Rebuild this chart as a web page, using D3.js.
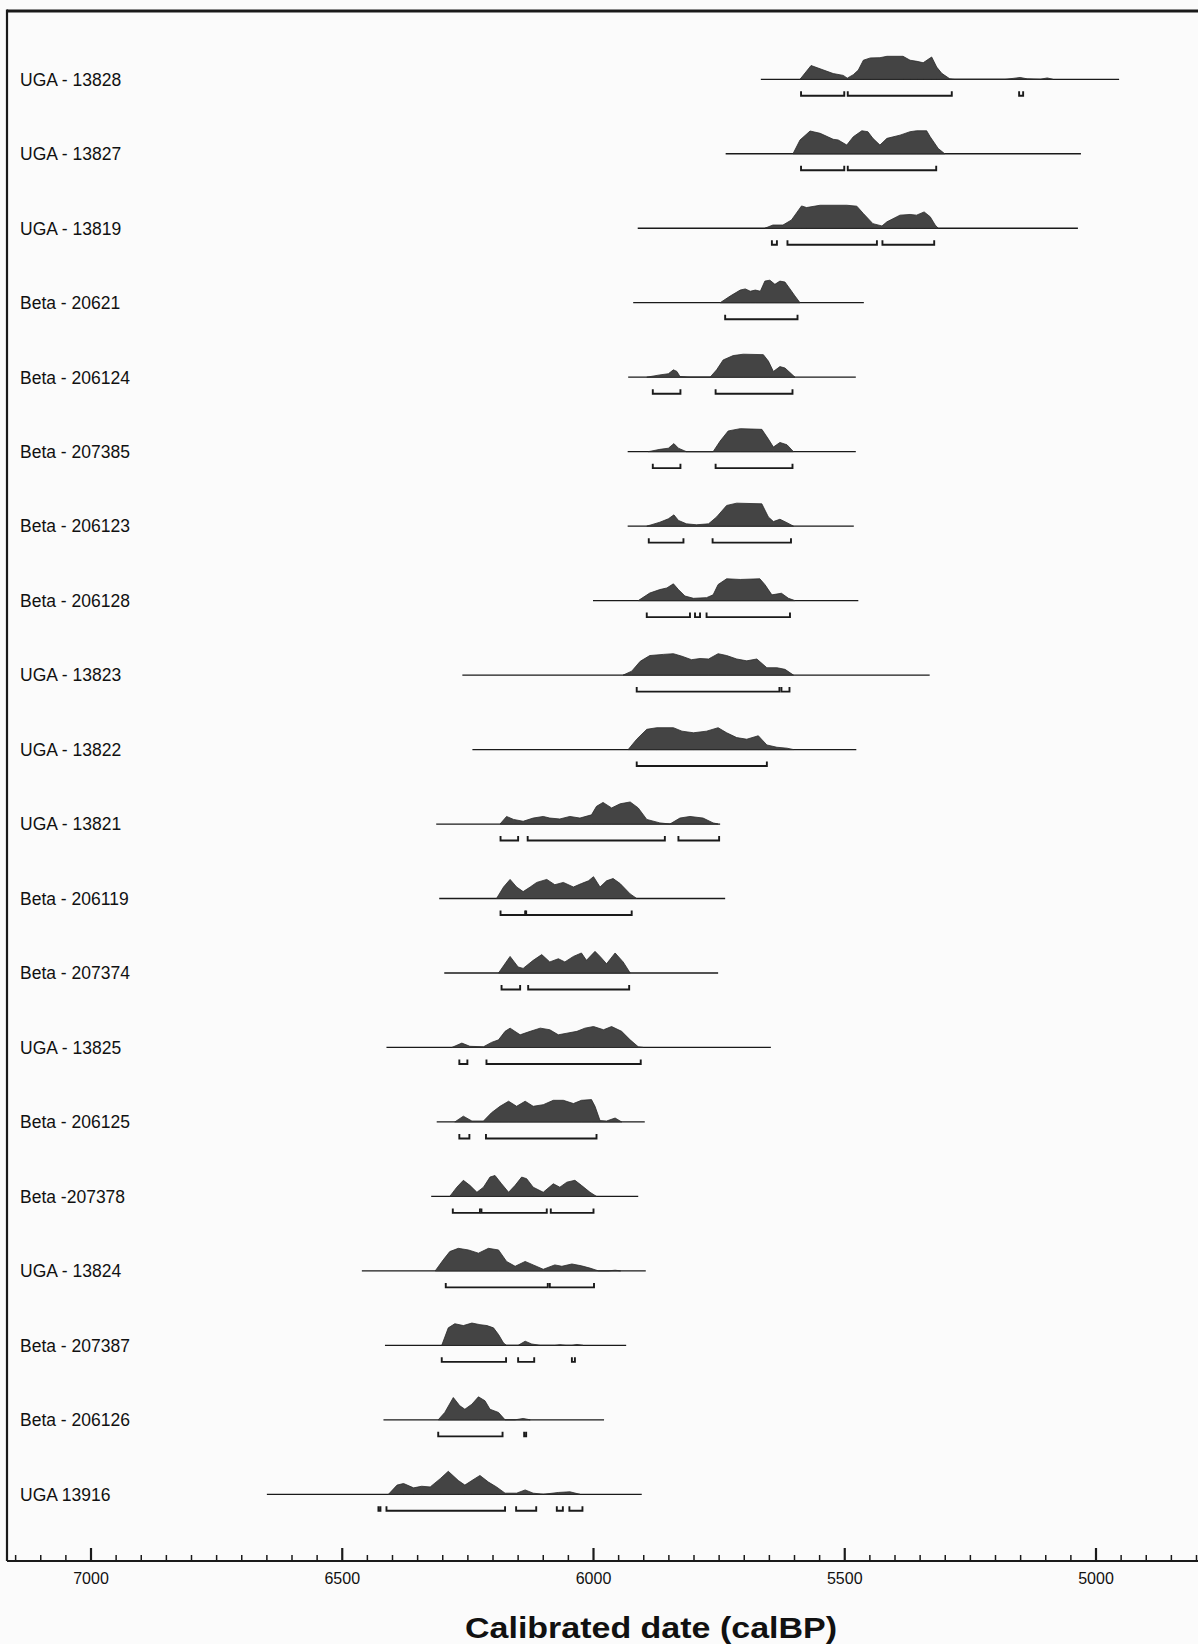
<!DOCTYPE html>
<html><head><meta charset="utf-8">
<script src="https://cdn.jsdelivr.net/npm/d3@7/dist/d3.min.js"></script>
<style>
html,body{margin:0;padding:0;background:#fbfbfb;}
svg{display:block;}
</style></head>
<body>
<svg id="chart" width="1198" height="1644"></svg>
<script>
// ---- Data (calibrated years BP; density relative to each sample's maximum) ----
const labels = ["UGA - 13828","UGA - 13827","UGA - 13819","Beta - 20621","Beta - 206124","Beta - 207385",
  "Beta - 206123","Beta - 206128","UGA - 13823","UGA - 13822","UGA - 13821","Beta - 206119","Beta - 207374",
  "UGA - 13825","Beta - 206125","Beta -207378","UGA - 13824","Beta - 207387","Beta - 206126","UGA 13916"];

// plotted extent of each calibrated curve [from, to]
const lineRanges = [[5666,4953],[5736,5029],[5911,5035],[5920,5461],[5930,5477],[5931,5477],[5931,5481],
  [6000,5472],[6260,5330],[6240,5476],[6312,5747],[6306,5737],[6296,5751],[6411,5646],[6311,5897],
  [6322,5910],[6460,5895],[6414,5934],[6417,5978],[6649,5903]];

// highest posterior density ranges drawn as brackets
const hpdRanges = [
  [[5586,5500],[5493,5286],[5152,5144]],
  [[5586,5500],[5493,5317]],
  [[5644,5634],[5613,5435],[5424,5321]],
  [[5737,5593]],
  [[5881,5826],[5756,5603]],
  [[5881,5826],[5756,5603]],
  [[5889,5820],[5762,5606]],
  [[5893,5807],[5797,5787],[5774,5608]],
  [[5913,5629],[5625,5609]],
  [[5913,5654]],
  [[6184,6149],[6130,5857],[5830,5749]],
  [[6184,6135],[6133,5923]],
  [[6182,6145],[6129,5928]],
  [[6266,6250],[6212,5905]],
  [[6266,6246],[6213,5993]],
  [[6279,6225],[6222,6092],[6084,5999]],
  [[6293,6090],[6086,5998]],
  [[6301,6173],[6149,6117],[6042,6036]],
  [[6308,6180],[6137,6133]],
  [[6427,6423],[6411,6175],[6153,6113],[6072,6060],[6047,6021]]
];

const d01 = [[5588,0],[5566,0.6],[5522,0.25],[5502,0.17],[5494,0.05],[5482,0.2],[5472,0.4],[5462,0.83],[5448,0.93],
  [5429,0.94],[5415,1],[5383,1],[5369,0.83],[5355,0.78],[5343,0.72],[5326,0.97],[5316,0.53],[5306,0.26],[5290,0.02],
  [5280,0],[5180,0],[5164,0.04],[5150,0.08],[5136,0.02],[5110,0],[5096,0.06],[5085,0]];
const d02 = [[5602,0],[5588,0.6],[5568,0.99],[5548,0.89],[5522,0.63],[5512,0.6],[5495,0.38],[5482,0.74],[5465,1],
  [5453,0.96],[5443,0.67],[5429,0.38],[5415,0.67],[5389,0.81],[5369,0.96],[5356,1],[5336,1],[5329,0.74],[5313,0.23],[5300,0]];
const d03 = [[5658,0],[5642,0.14],[5622,0.14],[5605,0.36],[5585,0.97],[5575,0.9],[5548,1],[5495,1],[5475,0.96],
  [5462,0.64],[5443,0.2],[5425,0.1],[5415,0.28],[5389,0.57],[5369,0.6],[5356,0.57],[5341,0.71],[5329,0.5],[5319,0.14],[5313,0]];
const d04 = [[5747,0],[5727,0.29],[5707,0.55],[5697,0.6],[5687,0.5],[5677,0.55],[5667,0.5],[5658,0.94],[5648,0.98],
  [5638,0.8],[5628,0.94],[5618,0.9],[5608,0.6],[5598,0.29],[5588,0]];
const d05 = [[5893,0],[5867,0.1],[5850,0.15],[5840,0.32],[5833,0.25],[5827,0.03],[5807,0],[5767,0],[5754,0.32],
  [5741,0.75],[5721,0.94],[5701,1],[5661,0.98],[5651,0.7],[5641,0.25],[5628,0.46],[5618,0.4],[5608,0.2],[5598,0]];
const d06 = [[5890,0],[5867,0.1],[5850,0.15],[5839,0.35],[5830,0.15],[5814,0],[5761,0],[5747,0.46],[5731,0.9],
  [5707,1],[5664,0.97],[5651,0.55],[5641,0.2],[5628,0.4],[5614,0.3],[5601,0]];
const d07 = [[5893,0],[5867,0.17],[5850,0.32],[5839,0.49],[5830,0.25],[5814,0.1],[5794,0.06],[5770,0.1],[5754,0.4],
  [5734,0.9],[5714,1],[5664,0.97],[5651,0.4],[5641,0.2],[5628,0.3],[5614,0.15],[5601,0]];
const d08 = [[5910,0],[5887,0.33],[5867,0.48],[5853,0.55],[5840,0.73],[5830,0.48],[5817,0.2],[5800,0.1],[5774,0.13],
  [5761,0.25],[5751,0.7],[5734,0.95],[5707,0.92],[5668,0.95],[5658,0.7],[5644,0.25],[5625,0.32],[5611,0.1],[5598,0]];
const d09 = [[5940,0],[5923,0.17],[5906,0.6],[5887,0.85],[5860,0.9],[5840,0.93],[5823,0.82],[5804,0.67],[5787,0.72],
  [5770,0.7],[5751,0.93],[5734,0.85],[5714,0.7],[5694,0.62],[5674,0.7],[5654,0.32],[5634,0.32],[5618,0.25],[5601,0]];
const d10 = [[5930,0],[5913,0.45],[5893,0.88],[5873,0.95],[5840,0.95],[5823,0.8],[5800,0.73],[5774,0.8],[5751,0.95],
  [5734,0.73],[5714,0.52],[5694,0.45],[5671,0.6],[5654,0.2],[5634,0.1],[5614,0.06],[5601,0]];
const d11 = [[6185,0],[6172,0.33],[6158,0.2],[6139,0.12],[6119,0.26],[6099,0.33],[6086,0.26],[6066,0.22],[6046,0.33],
  [6026,0.26],[6003,0.4],[5993,0.77],[5980,0.94],[5963,0.7],[5946,0.88],[5926,0.96],[5910,0.7],[5893,0.2],[5867,0.05],
  [5847,0],[5827,0.26],[5807,0.33],[5781,0.26],[5761,0.05],[5751,0]];
const d12 = [[6192,0],[6178,0.5],[6165,0.83],[6152,0.5],[6139,0.3],[6125,0.5],[6112,0.7],[6092,0.83],[6076,0.6],
  [6059,0.7],[6039,0.5],[6023,0.65],[6009,0.77],[5999,0.95],[5986,0.5],[5973,0.77],[5960,0.87],[5946,0.65],[5926,0.2],[5913,0]];
const d13 = [[6188,0],[6165,0.72],[6149,0.26],[6139,0.2],[6119,0.55],[6102,0.8],[6086,0.48],[6069,0.62],[6056,0.48],
  [6039,0.72],[6023,0.87],[6013,0.55],[5996,0.94],[5986,0.72],[5973,0.4],[5956,0.87],[5940,0.48],[5926,0]];
const d14 = [[6281,0],[6261,0.19],[6245,0.05],[6218,0.03],[6202,0.22],[6188,0.33],[6175,0.7],[6165,0.84],[6145,0.55],
  [6125,0.7],[6105,0.84],[6086,0.77],[6069,0.55],[6052,0.62],[6032,0.7],[6016,0.84],[5999,0.91],[5979,0.77],[5963,0.91],
  [5943,0.7],[5926,0.33],[5910,0.03],[5900,0]];
const d15 = [[6275,0],[6258,0.25],[6241,0.04],[6218,0.04],[6202,0.4],[6185,0.68],[6168,0.9],[6152,0.68],[6135,0.9],
  [6119,0.68],[6099,0.75],[6079,0.94],[6059,0.94],[6039,0.8],[6023,0.94],[6003,0.97],[5996,0.68],[5986,0.06],[5973,0.04],
  [5956,0.17],[5943,0]];
const d16 = [[6285,0],[6271,0.4],[6258,0.7],[6245,0.48],[6231,0.18],[6218,0.4],[6205,0.84],[6195,0.91],[6182,0.55],
  [6168,0.18],[6155,0.48],[6142,0.84],[6132,0.77],[6119,0.4],[6099,0.18],[6079,0.55],[6066,0.4],[6052,0.62],[6036,0.7],
  [6023,0.48],[6006,0.18],[5993,0]];
const d17 = [[6314,0],[6298,0.48],[6285,0.84],[6268,0.98],[6248,0.91],[6228,0.77],[6208,0.98],[6188,0.91],[6172,0.41],
  [6155,0.2],[6135,0.41],[6119,0.26],[6099,0.07],[6076,0.26],[6062,0.2],[6042,0.3],[6023,0.22],[6006,0.12],[5989,0],
  [5970,0],[5956,0.03],[5945,0]];
const d18 = [[6301,0],[6288,0.76],[6275,0.94],[6258,0.86],[6241,0.97],[6225,0.9],[6211,0.86],[6198,0.76],[6188,0.47],
  [6178,0.1],[6172,0],[6149,0],[6135,0.18],[6122,0.06],[6105,0],[6076,0],[6066,0.03],[6054,0],[6042,0],[6032,0.04],[6020,0]];
const d19 = [[6308,0],[6295,0.32],[6278,0.97],[6265,0.61],[6255,0.46],[6241,0.68],[6228,1],[6215,0.83],[6205,0.46],
  [6188,0.32],[6175,0],[6155,0],[6139,0.06],[6125,0]];
const d20 = [[6407,0],[6390,0.4],[6377,0.47],[6357,0.28],[6341,0.35],[6324,0.32],[6304,0.68],[6288,1],[6268,0.6],
  [6255,0.4],[6241,0.6],[6225,0.82],[6208,0.53],[6192,0.32],[6175,0.05],[6152,0.05],[6135,0.19],[6119,0.05],[6099,0],
  [6069,0.08],[6046,0.11],[6026,0]];
const densities = [d01,d02,d03,d04,d05,d06,d07,d08,d09,d10,d11,d12,d13,d14,d15,d16,d17,d18,d19,d20];

const majorTicks = [7000, 6500, 6000, 5500, 5000];
const axisTitle = "Calibrated date (calBP)";

// ---- Drawing ----
const svg = d3.select("#chart");
const W = 1198;
const frameLeft = 7, frameTop = 11, axisY = 1561;

const x = d3.scaleLinear().domain([7000, 5000]).range([90.5, 1095.5]);
const y = d3.scalePoint().domain(labels).range([79.3, 1494.3]);
const h = d3.scaleLinear().domain([0, 1]).range([0, 23]);

const ink = "#1a1a1a";
const fillCol = "#444444";

// frame
svg.append("line").attr("x1", frameLeft).attr("x2", W).attr("y1", frameTop).attr("y2", frameTop)
  .attr("stroke", ink).attr("stroke-width", 2.8);
svg.append("line").attr("x1", frameLeft).attr("x2", frameLeft).attr("y1", frameTop - 1.4).attr("y2", axisY)
  .attr("stroke", ink).attr("stroke-width", 2.2);

// rows
const rows = svg.append("g").selectAll("g").data(labels).join("g")
  .attr("transform", d => `translate(0,${y(d)})`);

rows.append("text")
  .attr("x", 20).attr("y", 0).attr("dy", "0.36em")
  .attr("font-family", "Liberation Sans, Arial, sans-serif")
  .attr("font-size", 17.5).attr("fill", "#111")
  .text(d => d);

rows.append("line")
  .attr("x1", (d, i) => x(lineRanges[i][0])).attr("x2", (d, i) => x(lineRanges[i][1]))
  .attr("y1", 0).attr("y2", 0).attr("stroke", ink).attr("stroke-width", 1.3);

const area = d3.area().x(d => x(d[0])).y0(0).y1(d => -h(d[1]));
rows.append("path")
  .attr("d", (d, i) => area(densities[i]))
  .attr("fill", fillCol).attr("stroke", "#2a2a2a").attr("stroke-width", 0.8);

// brackets
const bracketY = 16.5, bracketTick = 4.5;
rows.each(function(d, i) {
  const g = d3.select(this);
  g.selectAll("path.br").data(hpdRanges[i]).join("path").attr("class", "br")
    .attr("d", r => {
      const a = x(r[0]), b = x(r[1]);
      return `M${a},${bracketY - bracketTick}V${bracketY}H${b}V${bracketY - bracketTick}`;
    })
    .attr("fill", "none").attr("stroke", ink).attr("stroke-width", 1.9);
});

// axis
const axisG = svg.append("g").attr("transform", `translate(0,${axisY})`);
axisG.append("line").attr("x1", frameLeft).attr("x2", W).attr("y1", 0).attr("y2", 0)
  .attr("stroke", ink).attr("stroke-width", 2.2);

const minorTicks = d3.range(7150, 4790, -50).filter(v => v % 500 !== 0);
const minorAxis = d3.axisBottom(x).tickValues(minorTicks).tickSizeInner(-6).tickSizeOuter(0).tickFormat("");
const majorAxis = d3.axisBottom(x).tickValues(majorTicks).tickSizeInner(-13).tickSizeOuter(0)
  .tickPadding(12).tickFormat(d3.format("d"));

const gMinor = axisG.append("g").call(minorAxis);
const gMajor = axisG.append("g").call(majorAxis);
[gMinor, gMajor].forEach(g => {
  g.select(".domain").remove();
  g.selectAll(".tick line").attr("stroke", ink).attr("stroke-width", 1.5);
});
gMajor.selectAll(".tick line").attr("stroke-width", 2.2);
gMajor.selectAll("text")
  .attr("font-family", "Liberation Sans, Arial, sans-serif")
  .attr("font-size", 16).attr("fill", "#111");

svg.append("text")
  .attr("x", 651).attr("y", 1638)
  .attr("text-anchor", "middle")
  .attr("font-family", "Liberation Sans, Arial, sans-serif")
  .attr("font-weight", "bold").attr("font-size", 29).attr("fill", "#111")
  .attr("textLength", 372).attr("lengthAdjust", "spacingAndGlyphs")
  .text(axisTitle);
</script>
</body></html>
